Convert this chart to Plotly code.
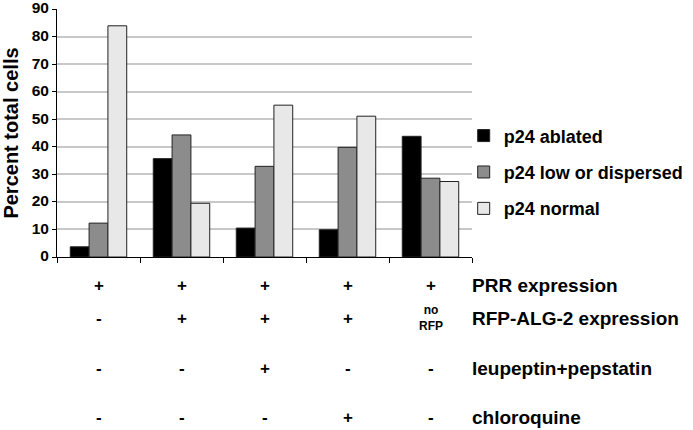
import plotly.graph_objects as go

groups = ["G1", "G2", "G3", "G4", "G5"]
ablated = [3.7, 35.7, 10.5, 9.9, 43.8]
low_dispersed = [12.3, 44.3, 32.9, 39.8, 28.6]
normal = [83.9, 19.5, 55.1, 51.1, 27.4]
series_names = ["p24 ablated", "p24 low or dispersed", "p24 normal"]
colors = ["#000000", "#8c8c8c", "#e8e8e8"]

row_labels = ["PRR expression", "RFP-ALG-2 expression", "leupeptin+pepstatin", "chloroquine"]
row_values = [
    ["+", "+", "+", "+", "+"],
    ["-", "+", "+", "+", "no<br>RFP"],
    ["-", "-", "+", "-", "-"],
    ["-", "-", "-", "+", "-"],
]
y_ticks = [0, 10, 20, 30, 40, 50, 60, 70, 80, 90]

FONT = "Liberation Sans, Arial, sans-serif"

fig = go.Figure()
for i, (name, vals) in enumerate(zip(series_names, [ablated, low_dispersed, normal])):
    fig.add_trace(go.Bar(
        x=groups, y=vals, name=name,
        marker=dict(color=colors[i], line=dict(color="#222222", width=1)),
        legendgroup=name,
    ))

row_y = [-0.113, -0.246, -0.448, -0.649]
annotations = []
for r, (label, vals) in enumerate(zip(row_labels, row_values)):
    for g, v in zip(groups, vals):
        small = "<br>" in v
        annotations.append(dict(
            x=g, y=row_y[r], xref="x", yref="paper", text=v, showarrow=False,
            font=dict(size=12 if small else 17, family=FONT, color="black", weight="bold"),
            xanchor="center", yanchor="middle",
        ))
    annotations.append(dict(
        x=0.996, y=row_y[r], xref="paper", yref="paper", text=label, showarrow=False,
        font=dict(size=19, family=FONT, color="black", weight="bold"),
        xanchor="left", yanchor="middle",
    ))

fig.update_layout(
    width=693, height=430,
    margin=dict(l=57, r=221, t=9, b=173, autoexpand=False),
    paper_bgcolor="white", plot_bgcolor="white",
    barmode="group", bargap=0.32, bargroupgap=0,
    font=dict(family=FONT, color="black", size=15, weight="bold"),
    showlegend=True,
    legend=dict(x=0.98, y=0.563, xanchor="left", yanchor="top",
                traceorder="grouped", tracegroupgap=10,
                font=dict(size=18, family=FONT, color="black", weight="bold"),
                itemwidth=30, bgcolor="rgba(0,0,0,0)"),
    annotations=annotations,
)
fig.update_xaxes(
    showticklabels=False, ticks="outside", tickson="boundaries", ticklen=5,
    tickcolor="black", showline=True, linecolor="black", linewidth=1,
    showgrid=False, automargin=False,
)
fig.update_yaxes(
    range=[0, 90], tickvals=y_ticks, ticks="outside", ticklen=4, tickcolor="black",
    showline=True, linecolor="black", linewidth=1,
    showgrid=True, gridcolor="#c8c8c8", gridwidth=1.5,
    tickfont=dict(size=15.5, family=FONT, weight="bold"),
    ticklabeloverflow="allow", ticklabelshift=-1, automargin=False,
    title=dict(text="Percent total cells", font=dict(size=20, family=FONT, weight="bold"), standoff=8),
    zeroline=False,
)
fig.write_html("out.html", config={"displayModeBar": False},
               post_script="document.body.style.margin='0';")
